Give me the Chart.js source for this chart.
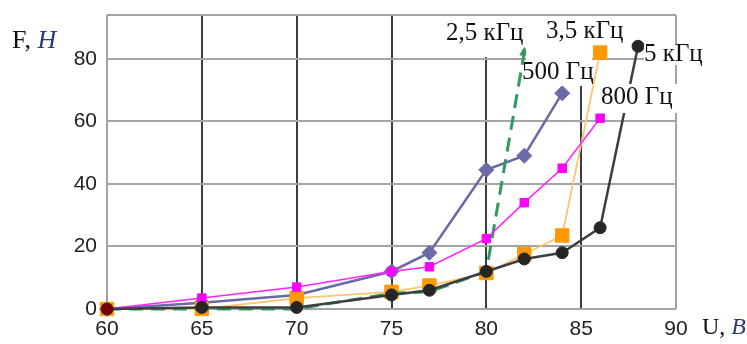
<!DOCTYPE html>
<html>
<head>
<meta charset="utf-8">
<script src="https://cdn.jsdelivr.net/npm/chart.js@4"></script>
<style>
  html, body { margin: 0; padding: 0; background: #fff; }
  #wrap { width: 747px; height: 344px; }
</style>
</head>
<body>
<div id="wrap"><canvas id="c" width="747" height="344"></canvas></div>
<script>
// Force F (N) versus voltage U (V) for several frequencies
const u500 = [60, 65, 70, 75, 77, 80, 82, 84];
const f500 = [0, 2, 4.5, 12, 18, 44.5, 49, 69];

const u800 = [60, 65, 70, 75, 77, 80, 82, 84, 86];
const f800 = [0, 3.5, 7, 12, 13.5, 22.5, 34, 45, 61];

const u2500 = [60, 65, 70, 75, 77, 80, 82];
const f2500 = [0, 0, 0, 5, 5.5, 12, 82];

const u3500 = [60, 65, 70, 75, 77, 80, 82, 84, 86];
const f3500 = [0, 0, 3.5, 5.5, 7.5, 11.5, 17.5, 23.5, 82];

const u5000 = [60, 65, 70, 75, 77, 80, 82, 84, 86, 88];
const f5000 = [0, 0.5, 0.5, 4.5, 6, 12, 16, 18, 26, 84];

const uStart = [60];
const fStart = [0];

const xTicks = [60, 65, 70, 75, 80, 85, 90];
const yTicks = [0, 20, 40, 60, 80];

const seriesLabels = ['500 Гц', '800 Гц', '2,5 кГц', '3,5 кГц', '5 кГц'];

const pts = (xs, ys) => xs.map((x, i) => ({ x, y: ys[i] }));

// Curve captions on white boxes: [text, boxX, boxY, boxW, boxH, textX, textY]
const captions = [
  [seriesLabels[2], 440, 16, 76, 41, 446, 33],
  [seriesLabels[3], 545, 16, 86, 28, 546, 31],
  [seriesLabels[0], 526, 44, 66, 42, 522, 72],
  [seriesLabels[4], 644, 45, 66, 20, 644, 54],
  [seriesLabels[1], 600, 84, 80, 29, 601, 97]
];

const overlay = {
  id: 'overlay',
  beforeDatasetsDraw(chart) {
    const { ctx, chartArea: a } = chart;
    ctx.save();
    ctx.strokeStyle = '#a4a4a4';
    ctx.lineWidth = 2;
    ctx.beginPath();
    ctx.moveTo(a.left, a.top);
    ctx.lineTo(a.right, a.top);
    ctx.stroke();
    ctx.restore();
  },
  afterDatasetsDraw(chart) {
    const ctx = chart.ctx;
    ctx.save();
    ctx.font = '25px "Liberation Serif", "DejaVu Serif", serif';
    ctx.textBaseline = 'middle';
    ctx.textAlign = 'left';
    captions.forEach(([t, bx, by, bw, bh, tx, ty]) => {
      ctx.fillStyle = '#ffffff';
      ctx.fillRect(bx, by, bw, bh);
      ctx.fillStyle = '#111111';
      ctx.fillText(t, tx, ty);
    });

    // axis titles
    const drawTitle = (plain, ital, x, y, size) => {
      ctx.font = size + 'px "Liberation Serif", serif';
      ctx.fillStyle = '#111111';
      ctx.fillText(plain, x, y);
      const w = ctx.measureText(plain).width;
      ctx.font = 'italic ' + size + 'px "Liberation Serif", serif';
      ctx.fillStyle = '#2b3a78';
      ctx.fillText(ital, x + w, y);
    };
    drawTitle('F, ', 'H', 12, 41, 26);
    drawTitle('U, ', 'B', 702, 328, 24);
    ctx.restore();
  }
};

const chart = new Chart(document.getElementById('c'), {
  type: 'line',
  data: {
    datasets: [
      {
        label: seriesLabels[0], data: pts(u500, f500), order: 6,
        borderColor: '#6a6aa6', backgroundColor: '#6a6aa6', borderWidth: 2.5,
        pointStyle: 'rectRot', pointRadius: 7.5, pointBorderWidth: 1
      },
      {
        label: seriesLabels[3], data: pts(u3500, f3500), order: 5,
        borderColor: '#ffc46e', backgroundColor: '#ff9900', pointBorderColor: '#ff9900',
        borderWidth: 1.8, pointStyle: 'rect', pointRadius: 9.5, pointBorderWidth: 1
      },
      {
        label: seriesLabels[2], data: pts(u2500, f2500), order: 4,
        borderColor: '#2f9a5e', backgroundColor: '#2f9a5e', borderWidth: 3,
        borderDash: [14, 8], pointStyle: 'triangle', pointRadius: 5, pointBorderWidth: 1
      },
      {
        label: seriesLabels[1], data: pts(u800, f800), order: 3,
        borderColor: '#ff22ff', backgroundColor: '#ff00ff', pointBorderColor: '#ff00ff',
        borderWidth: 1.5, pointStyle: 'rect', pointRadius: 6, pointBorderWidth: 1
      },
      {
        label: seriesLabels[4], data: pts(u5000, f5000), order: 2,
        borderColor: '#3e3e3e', backgroundColor: '#262626', pointBorderColor: '#262626',
        borderWidth: 2.5, pointStyle: 'circle', pointRadius: 6, pointBorderWidth: 1
      },
      {
        label: 'start', data: pts(uStart, fStart), order: 1,
        borderColor: '#7a0000', backgroundColor: '#7a0000', showLine: false,
        pointStyle: 'circle', pointRadius: 5.5, pointBorderWidth: 0
      }
    ].map(d => Object.assign({ tension: 0, clip: false, fill: false }, d))
  },
  options: {
    responsive: false,
    animation: false,
    devicePixelRatio: 1,
    layout: { padding: { left: 0, right: 71, top: 15, bottom: 0 } },
    plugins: { legend: { display: false }, tooltip: { enabled: false } },
    scales: {
      x: {
        type: 'linear', min: 60, max: 90,
        afterFit(s) { s.height = 35; s.paddingLeft = 0; s.paddingRight = 0; },
        afterBuildTicks(s) { s.ticks = xTicks.map(v => ({ value: v })); },
        ticks: {
          padding: 8, color: '#222',
          font: { family: '"Liberation Sans", Arial, sans-serif', size: 21 }
        },
        border: { display: false },
        grid: {
          drawTicks: false,
          lineWidth: 2,
          color: c => (c.tick && (c.tick.value === 60 || c.tick.value === 90)) ? '#a4a4a4' : '#3c3c3c'
        }
      },
      y: {
        type: 'linear', min: 0, max: 94,
        afterFit(s) { s.width = 107; s.paddingTop = 0; s.paddingBottom = 0; },
        afterBuildTicks(s) { s.ticks = yTicks.map(v => ({ value: v })); },
        ticks: {
          padding: 10, color: '#222',
          font: { family: '"Liberation Sans", Arial, sans-serif', size: 21 }
        },
        border: { display: false },
        grid: { drawTicks: false, lineWidth: 2, color: '#a4a4a4' }
      }
    }
  },
  plugins: [overlay]
});
</script>
</body>
</html>
